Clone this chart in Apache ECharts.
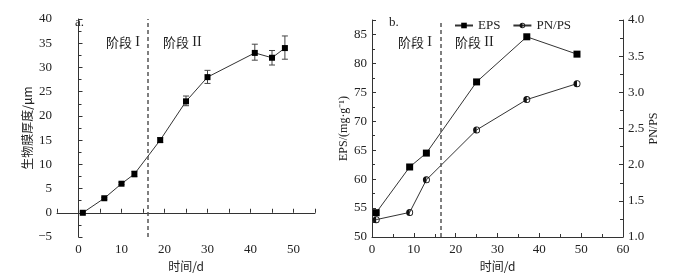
<!DOCTYPE html>
<html><head><meta charset="utf-8">
<script src="https://cdn.jsdelivr.net/npm/echarts@6/dist/echarts.min.js"></script>
<style>html,body{margin:0;padding:0;background:#fff}#c{width:677px;height:273px}</style>
</head><body><div id="c"></div>
<script>
// Panel a: biofilm thickness
const daysA = [1, 6, 10, 13, 19, 25, 30, 41, 45, 48];
const thickness = [0, 3, 6, 8, 15, 23, 28, 33, 32, 34];
const errLow = [-0.2, 2.8, 5.8, 7.4, 14.5, 22.1, 26.7, 31.5, 30.5, 31.7];
const errHigh = [0.2, 3.2, 6.3, 8.6, 15.5, 24.1, 29.4, 34.8, 33.5, 36.5];
const stageSplitA = 16;
// Panel b: EPS and PN/PS
const daysB = [1, 9, 13, 25, 37, 49];
const eps = [54.2, 62.1, 64.5, 76.8, 84.6, 81.6];
const pnps = [1.24, 1.34, 1.79, 2.48, 2.90, 3.12];
const stageSplitB = 16.5;

const FONT = '"Liberation Serif", "Noto Sans CJK SC", serif';
const CJK = '"Noto Sans CJK SC", "Liberation Serif", serif';
const axisCol = '#333';
const halfCircle = 'path://M10,0 A10,10 0 1,1 10,20 A10,10 0 1,1 10,0 Z M10,2.5 A7.5,7.5 0 1,0 10,17.5 A7.5,7.5 0 1,0 10,2.5 Z M10,2.5 A7.5,7.5 0 0,0 10,17.5 Z';

function baseAxis(extra) {
  return Object.assign({
    axisLine: {show: true, lineStyle: {color: axisCol, width: 1}},
    axisTick: {show: true, inside: true, length: 4, lineStyle: {color: axisCol}},
    minorTick: {show: true, splitNumber: 2, length: 3, lineStyle: {color: axisCol}},
    splitLine: {show: false},
    axisLabel: {color: '#222', fontFamily: FONT, fontSize: 13, margin: 5},
    nameTextStyle: {color: '#222', fontFamily: CJK, fontSize: 12}
  }, extra);
}

function stageText(left, roman) {
  return {type: 'text', left: left, top: 35, style: {
    text: '{c|阶段} {r|' + roman + '}',
    rich: {
      c: {fontFamily: CJK, fontSize: 13, fill: '#222'},
      r: {fontFamily: FONT, fontSize: 14, fill: '#222'}
    }
  }};
}

const chart = echarts.init(document.getElementById('c'), null, {renderer: 'canvas'});

const errData = daysA.map((d, i) => [d, errLow[i], errHigh[i]]);

chart.setOption({
  animation: false,
  backgroundColor: '#fff',
  grid: [
    {left: 57, right: 362, top: 19, bottom: 36, outerBoundsMode: 'none', containLabel: false},
    {left: 372, right: 54, top: 20, bottom: 36, outerBoundsMode: 'none', containLabel: false}
  ],
  legend: {
    left: 449, top: 14, itemGap: 12, itemWidth: 18, itemHeight: 7,
    textStyle: {fontFamily: FONT, fontSize: 13, color: '#222'},
    data: ['EPS', 'PN/PS']
  },
  xAxis: [
    baseAxis({gridIndex: 0, type: 'value', min: -5, max: 55, interval: 5,
      minorTick: {show: false},
      axisLabel: {color: '#222', fontFamily: FONT, fontSize: 13, margin: 6,
        formatter: v => (v % 10 === 0 ? String(v) : '')},
      name: '时间/d', nameLocation: 'middle', nameGap: 20}),
    baseAxis({gridIndex: 1, type: 'value', min: 0, max: 60, interval: 10,
      axisLabel: {color: '#222', fontFamily: FONT, fontSize: 13, margin: 6},
      name: '时间/d', nameLocation: 'middle', nameGap: 20})
  ],
  yAxis: [
    baseAxis({gridIndex: 0, type: 'value', min: -5, max: 40, interval: 5,
      axisLabel: {color: '#222', fontFamily: FONT, fontSize: 13, margin: 5,
        formatter: v => (v < 0 ? '\u2212' + Math.abs(v) : String(v))},
      name: '生物膜厚度/μm', nameLocation: 'middle', nameGap: 24}),
    baseAxis({gridIndex: 1, type: 'value', min: 50, max: 87.5, interval: 5,
      axisLabel: {color: '#222', fontFamily: FONT, fontSize: 13, margin: 5,
        formatter: v => (v % 5 === 0 ? String(v) : '')},
      name: 'EPS/(mg·g⁻¹)', nameLocation: 'middle', nameGap: 22,
      nameTextStyle: {color: '#222', fontFamily: FONT, fontSize: 12}}),
    baseAxis({gridIndex: 1, type: 'value', position: 'right', min: 1, max: 4, interval: 0.5,
      axisLabel: {color: '#222', fontFamily: FONT, fontSize: 13, margin: 5,
        formatter: v => v.toFixed(1)},
      name: 'PN/PS', nameLocation: 'middle', nameGap: 24,
      nameTextStyle: {color: '#222', fontFamily: FONT, fontSize: 12}})
  ],
  series: [
    {
      type: 'custom', xAxisIndex: 0, yAxisIndex: 0, z: 3,
      data: errData,
      renderItem: function (params, api) {
        const x = api.value(0);
        const lo = api.coord([x, api.value(1)]);
        const hi = api.coord([x, api.value(2)]);
        const w = 3;
        const st = {stroke: '#444', lineWidth: 1};
        return {type: 'group', children: [
          {type: 'line', shape: {x1: lo[0], y1: lo[1], x2: hi[0], y2: hi[1]}, style: st},
          {type: 'line', shape: {x1: lo[0] - w, y1: lo[1], x2: lo[0] + w, y2: lo[1]}, style: st},
          {type: 'line', shape: {x1: hi[0] - w, y1: hi[1], x2: hi[0] + w, y2: hi[1]}, style: st}
        ]};
      }
    },
    {
      name: 'thickness', type: 'line', xAxisIndex: 0, yAxisIndex: 0, z: 4,
      data: daysA.map((d, i) => [d, thickness[i]]),
      symbol: 'rect', symbolSize: 6,
      lineStyle: {color: '#333', width: 1},
      itemStyle: {color: '#000'},
      markLine: {
        silent: true, symbol: 'none', label: {show: false},
        lineStyle: {color: '#555', type: [4, 3], width: 1.5},
        data: [{xAxis: stageSplitA}]
      }
    },
    {
      name: 'EPS', type: 'line', xAxisIndex: 1, yAxisIndex: 1, z: 4,
      data: daysB.map((d, i) => [d, eps[i]]),
      symbol: 'rect', symbolSize: 7,
      lineStyle: {color: '#333', width: 1},
      itemStyle: {color: '#000'},
      markLine: {
        silent: true, symbol: 'none', label: {show: false},
        lineStyle: {color: '#555', type: [4, 3], width: 1.5},
        data: [{xAxis: stageSplitB}]
      }
    },
    {
      name: 'PN/PS', type: 'line', xAxisIndex: 1, yAxisIndex: 2, z: 4,
      data: daysB.map((d, i) => [d, pnps[i]]),
      symbol: halfCircle, symbolSize: 7,
      lineStyle: {color: '#333', width: 1},
      itemStyle: {color: '#111'}
    }
  ],
  graphic: [
    {type: 'text', left: 75, top: 16, style: {text: 'a.', font: '13px ' + FONT, fill: '#222'}},
    stageText(106, 'I'),
    stageText(163, 'II'),
    {type: 'text', left: 389, top: 16, style: {text: 'b.', font: '13px ' + FONT, fill: '#222'}},
    stageText(398, 'I'),
    stageText(455, 'II')
  ]
});
</script></body></html>
